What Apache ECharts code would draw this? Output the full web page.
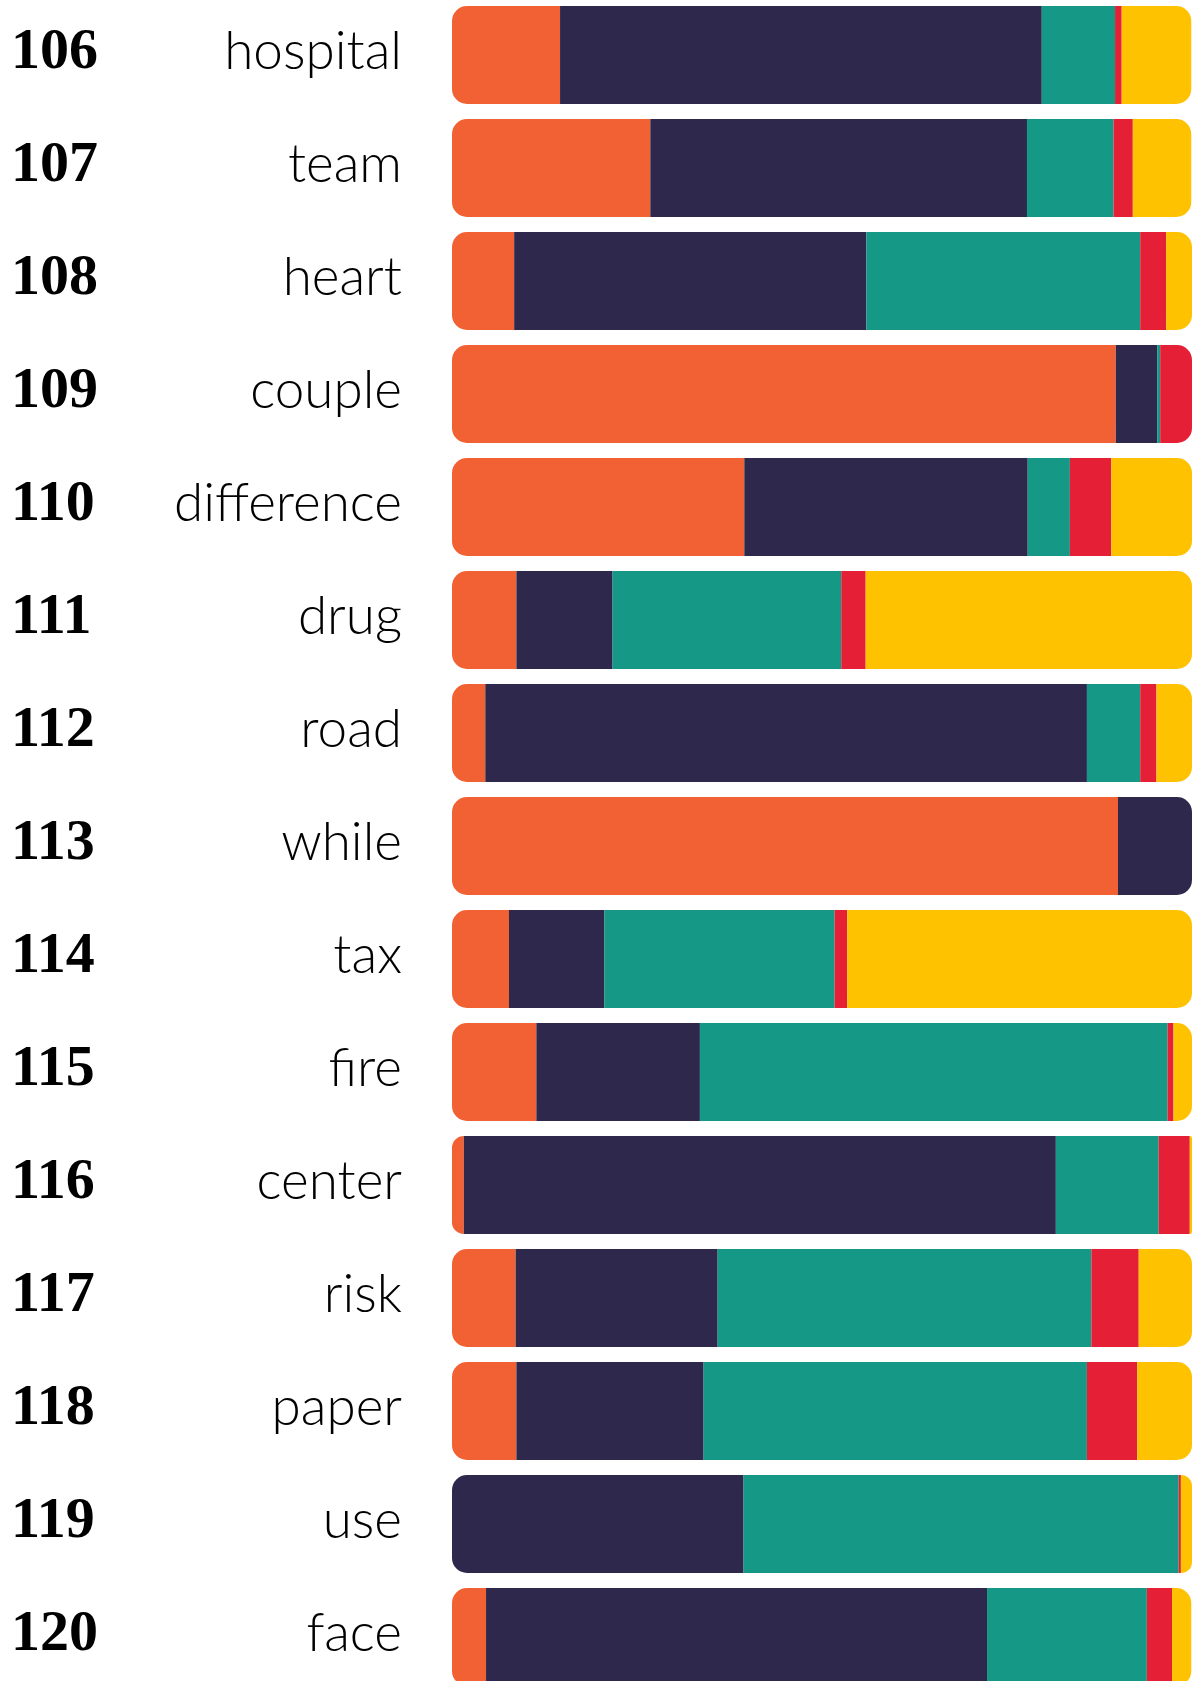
<!DOCTYPE html>
<html>
<head>
<meta charset="utf-8">
<script src="https://cdn.jsdelivr.net/npm/echarts@6/dist/echarts.min.js"></script>
<style>
html,body{margin:0;padding:0;background:#ffffff;overflow:hidden;width:1195px;height:1681px;}
#chart{position:absolute;left:0;top:-20px;width:1195px;height:1740px;}
</style>
</head>
<body>
<div id="chart"></div>
<script>
const ranks = [106,107,108,109,110,111,112,113,114,115,116,117,118,119,120];
const categories = ['hospital','team','heart','couple','difference','drug','road','while','tax','fire','center','risk','paper','use','face'];
const orange = [14.6, 26.8, 8.4, 89.7, 39.5, 8.7, 4.5, 90.0, 7.7, 11.4, 1.6, 8.6, 8.7, 0, 4.6];
const navy   = [65.1, 50.9, 47.6, 5.6, 38.3, 13.0, 81.3, 10.0, 12.9, 22.1, 80.0, 27.3, 25.3, 39.4, 67.7];
const teal   = [9.9, 11.7, 37.0, 0.4, 5.7, 30.9, 7.2, 0, 31.1, 63.2, 13.9, 50.5, 51.8, 58.8, 21.6];
const red    = [0.9, 2.6, 3.5, 4.3, 5.6, 3.3, 2.2, 0, 1.7, 0.8, 4.2, 6.4, 6.8, 0.3, 3.4];
const yellow = [9.4, 7.9, 3.5, 0, 10.9, 44.1, 4.8, 0, 46.6, 2.5, 0.3, 7.2, 7.4, 1.5, 2.6];

const seriesList = [
  {name:'orange', data: orange, color:'#F26134'},
  {name:'navy', data: navy, color:'#2E284D'},
  {name:'teal', data: teal, color:'#169887'},
  {name:'red', data: red, color:'#E41F36'},
  {name:'yellow', data: yellow, color:'#FFC200'}
];
const R = 15;
function firstIdx(i){ for(let s=0;s<seriesList.length;s++){ if(seriesList[s].data[i]>0) return s; } return 0; }
function lastIdx(i){ for(let s=seriesList.length-1;s>=0;s--){ if(seriesList[s].data[i]>0) return s; } return 0; }

const series = seriesList.map((s, si) => ({
  name: s.name,
  type: 'bar',
  stack: 'all',
  barWidth: 98,
  silent: true,
  itemStyle: {color: s.color},
  data: s.data.map((v, i) => {
    const f = firstIdx(i), l = lastIdx(i);
    let r = [0,0,0,0];
    if (si === f && si === l) r = [R,R,R,R];
    else if (si === f) r = [R,0,0,R];
    else if (si === l) r = [0,R,R,0];
    return {value: v, itemStyle: {borderRadius: r}};
  })
}));

const chart = echarts.init(document.getElementById('chart'), null, {renderer:'canvas'});
chart.setOption({
  animation: false,
  backgroundColor: '#ffffff',
  grid: {left: 452, width: 740, top: 18.5, height: 1695, containLabel: false},
  xAxis: {type:'value', min:0, max:100, show:false},
  yAxis: {
    type:'category',
    inverse: true,
    data: categories,
    axisLine:{show:false}, axisTick:{show:false}, splitLine:{show:false},
    axisLabel: {
      margin: 50,
      formatter: (val, idx) => '{n|' + ranks[idx] + '}{w|' + val + '}',
      rich: {
        n: {fontFamily:'Liberation Serif', fontWeight:'bold', fontSize:58, color:'#000', width:181, align:'left', padding:[0,0,4,0]},
        w: {fontFamily:'Lato', fontWeight:300, fontSize:53, color:'#000', width:210, align:'right', padding:[0,0,6,0]}
      }
    }
  },
  series: series
});
</script>
</body>
</html>
